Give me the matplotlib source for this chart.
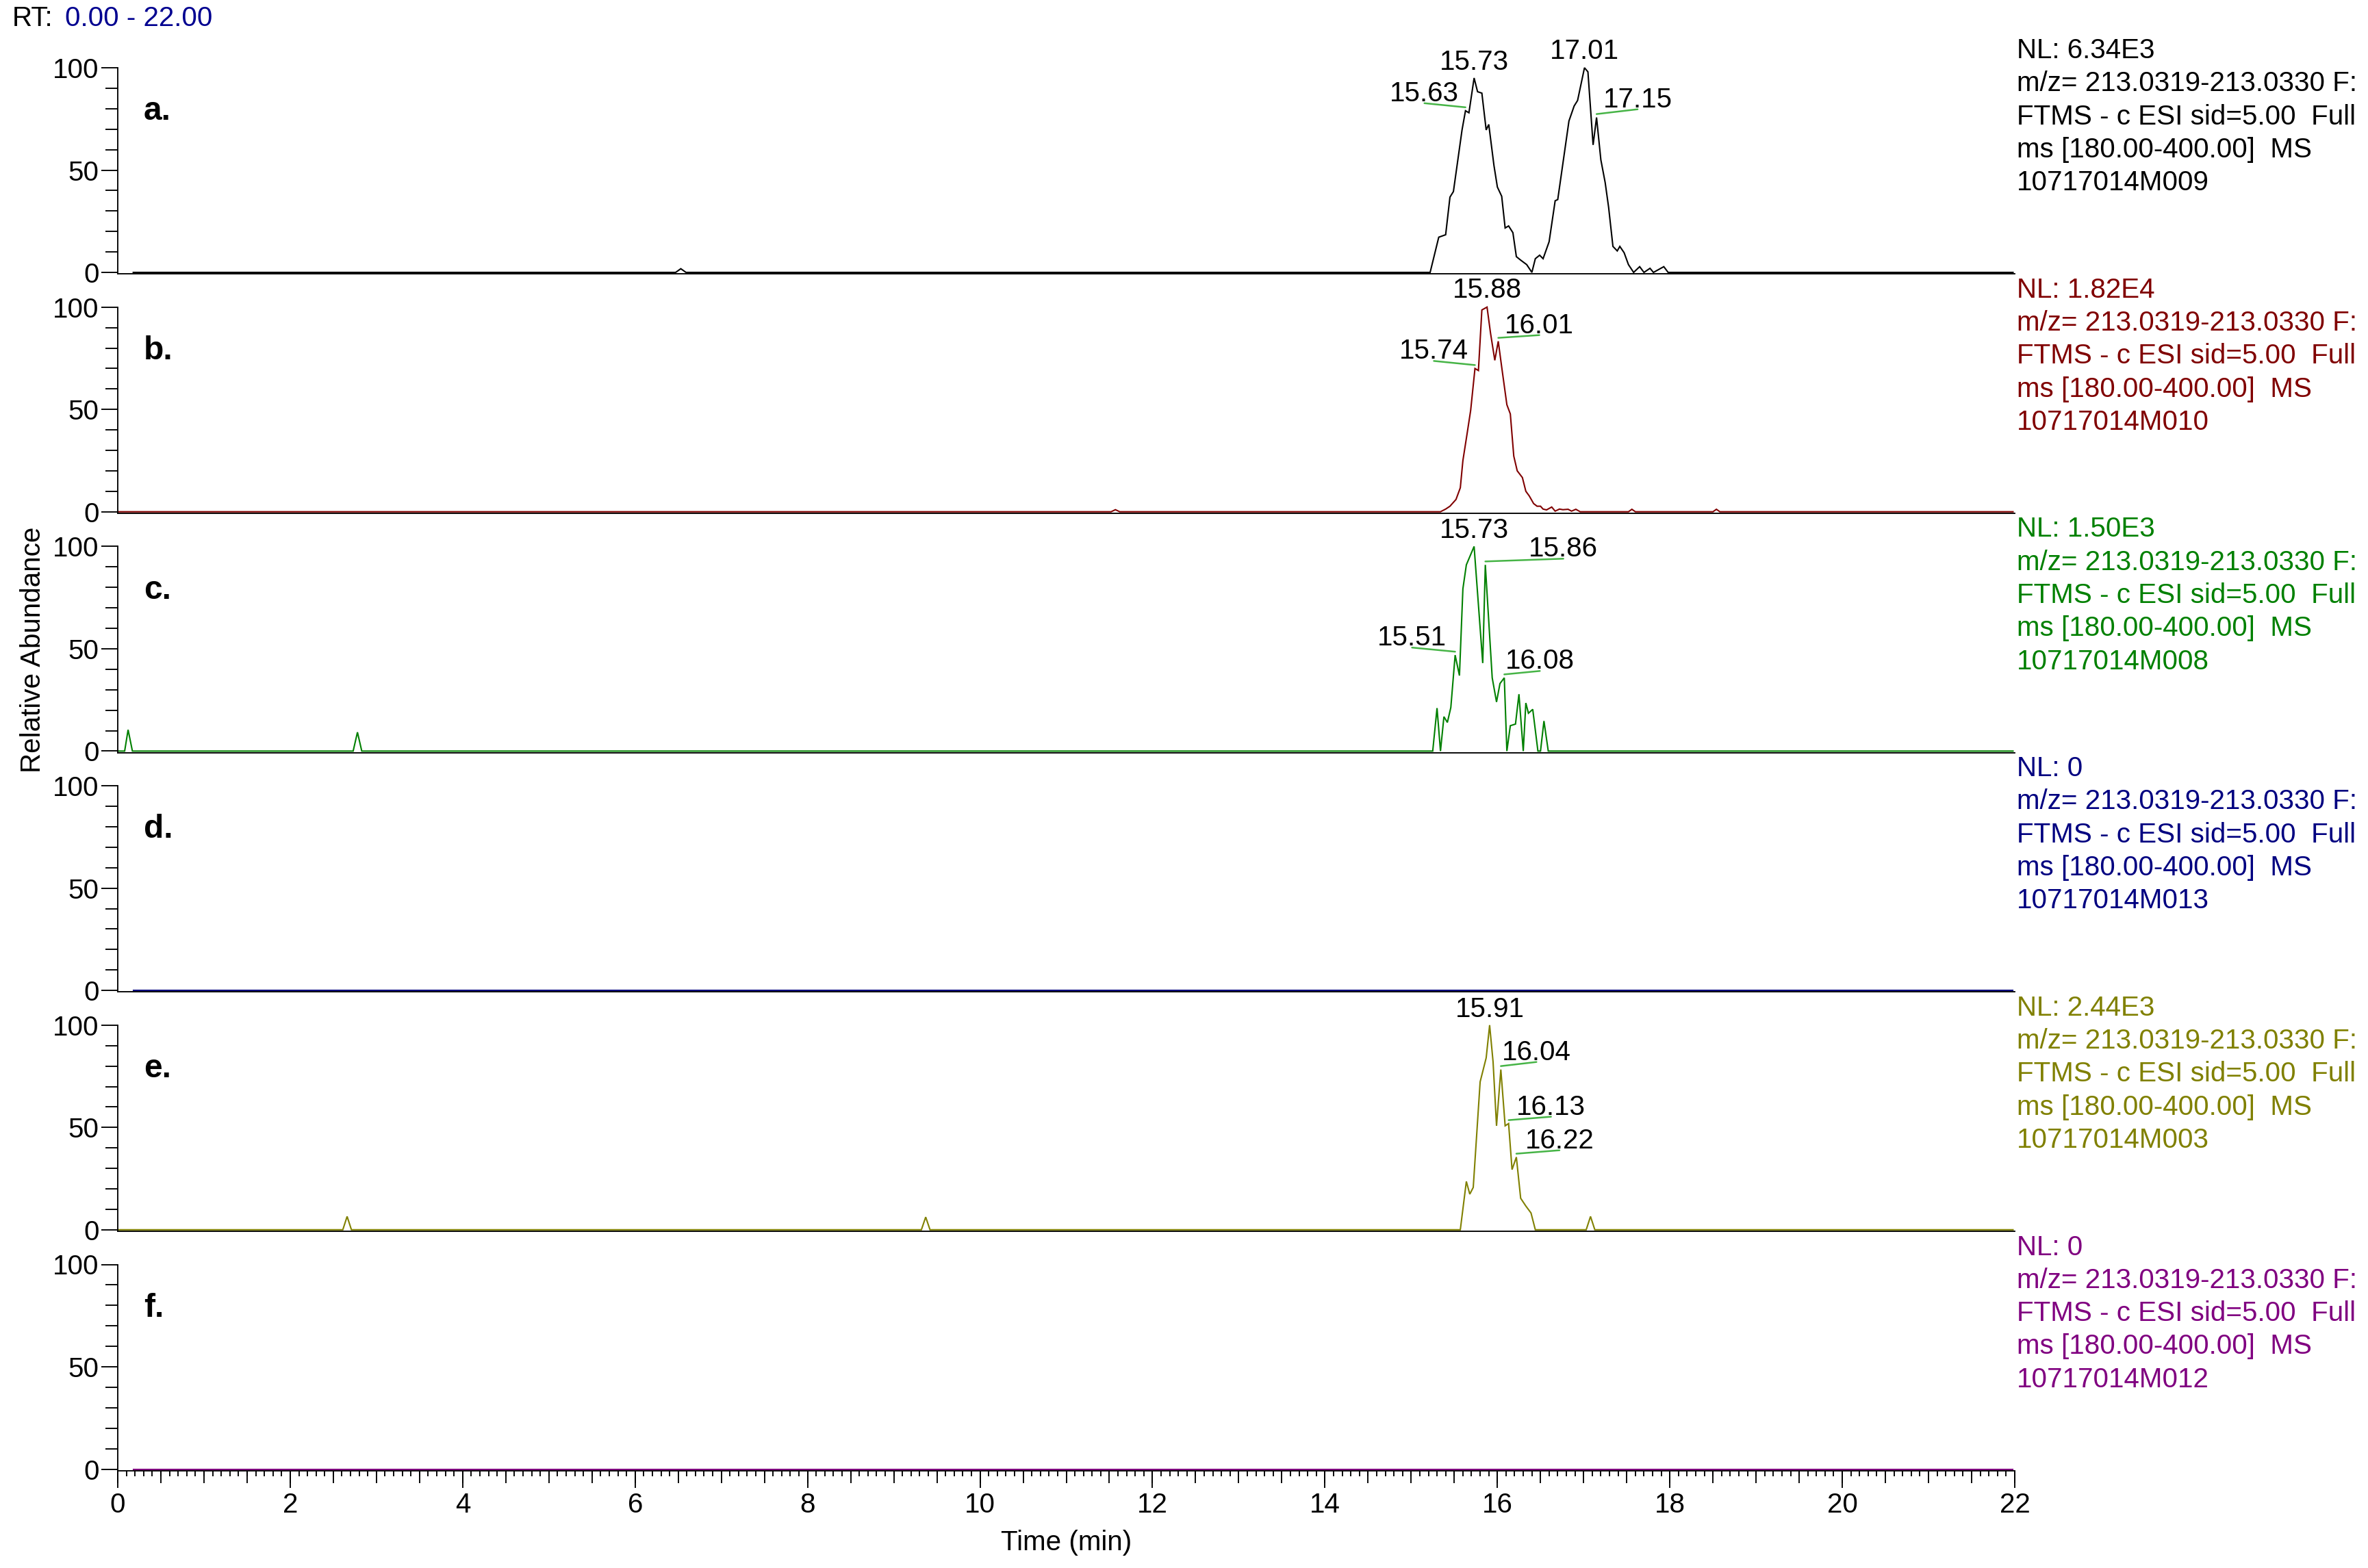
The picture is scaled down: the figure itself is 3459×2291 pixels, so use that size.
import numpy as np
import matplotlib
matplotlib.use("Agg")
import matplotlib.pyplot as plt
from matplotlib.ticker import FixedLocator, NullFormatter
from matplotlib.transforms import offset_copy

plt.rcParams['font.family'] = ['Liberation Sans', 'DejaVu Sans']

# ---------------- data ----------------
a_time = [0.18, 6.47, 6.53, 6.59, 15.22, 15.32, 15.40, 15.45, 15.49, 15.59, 15.63, 15.67,
          15.73, 15.77, 15.82, 15.87, 15.90, 15.96, 16.00, 16.05, 16.09, 16.13, 16.18,
          16.22, 16.27, 16.34, 16.40, 16.44, 16.49, 16.53, 16.60, 16.67, 16.70, 16.83,
          16.89, 16.93, 17.01, 17.05, 17.11, 17.15, 17.20, 17.25, 17.29, 17.34, 17.39,
          17.42, 17.47, 17.52, 17.58, 17.65, 17.70, 17.77, 17.81, 17.93, 17.98, 21.98]
a_abund = [0, 0, 1.8, 0, 0, 17.2, 18.4, 36.8, 39.5, 69.6, 79, 78,
           95, 88.3, 87.6, 69.6, 72.3, 52.3, 41.7, 37.2, 21.7, 22.7, 19.4,
           7.7, 6, 3.8, 0, 6.7, 8.4, 6.7, 15, 35, 35.6, 74,
           81.3, 84, 100, 98, 62.3, 75.7, 55, 43.9, 31.8, 12.7, 10.5,
           12.7, 9.6, 3.8, 0, 2.8, 0, 2, 0, 2.8, 0, 0]

b_time = [0.0, 11.52, 11.57, 11.62, 15.34, 15.40, 15.45, 15.52, 15.57, 15.60, 15.65, 15.69,
          15.74, 15.78, 15.82, 15.88, 15.92, 15.97, 16.01, 16.05, 16.11, 16.15, 16.19,
          16.23, 16.29, 16.33, 16.37, 16.42, 16.46, 16.50, 16.53, 16.57, 16.63, 16.67,
          16.72, 16.76, 16.82, 16.86, 16.91, 16.96, 17.52, 17.56, 17.60, 18.50, 18.54,
          18.58, 21.98]
b_abund = [0, 0, 1.0, 0, 0, 1.3, 2.7, 6, 11.7, 25, 38.5, 49.5,
           70, 69, 98.6, 100, 87.4, 74, 83.3, 70.7, 52.3, 47.8, 27.2,
           20, 16.7, 10, 7.7, 4, 2.7, 2.7, 1.3, 0.9, 2.3, 0.3,
           1.3, 1, 1.2, 0.3, 1.2, 0, 0, 1.2, 0, 0, 1.2,
           0, 0]

c_time = [0.0, 0.08, 0.12, 0.17, 2.73, 2.78, 2.83, 15.25, 15.30, 15.34, 15.38, 15.42, 15.46,
          15.51, 15.56, 15.60, 15.64, 15.73, 15.83, 15.86, 15.94, 15.99, 16.03, 16.08,
          16.11, 16.15, 16.21, 16.25, 16.30, 16.33, 16.36, 16.41, 16.47, 16.50, 16.54,
          16.59, 21.98]
c_abund = [0, 0, 10.4, 0, 0, 9.2, 0, 0, 21, 0, 16.8, 14, 21.3,
           46.9, 36.9, 79.3, 91, 100, 43, 91, 35.8, 24, 33, 35.8,
           0, 12.4, 13.2, 27.8, 0, 23.5, 18.5, 20.4, 0, 0, 14.7,
           0, 0]

d_time = [0.18, 21.98]
d_abund = [0, 0]

e_time = [0.0, 2.61, 2.66, 2.71, 9.32, 9.37, 9.42, 15.57, 15.64, 15.68, 15.72, 15.80, 15.87,
          15.91, 15.95, 15.99, 16.04, 16.09, 16.13, 16.17, 16.22, 16.27, 16.33, 16.39,
          16.44, 17.03, 17.08, 17.13, 21.98]
e_abund = [0, 0, 6.5, 0, 0, 6.2, 0, 0, 23.6, 17.4, 20.7, 72.3, 84,
           100, 82, 50.8, 78.3, 50.8, 51.9, 29.4, 35.5, 15.4, 11.6, 8.2,
           0, 0, 6.5, 0, 0]

f_time = [0.18, 21.98]
f_abund = [0, 0]

panel_letters = ['a.', 'b.', 'c.', 'd.', 'e.', 'f.']
nl_values = ['6.34E3', '1.82E4', '1.50E3', '0', '2.44E3', '0']
file_ids = ['10717014M009', '10717014M010', '10717014M008',
            '10717014M013', '10717014M003', '10717014M012']
filter_lines = ['m/z= 213.0319-213.0330 F:', 'FTMS - c ESI sid=5.00  Full',
                'ms [180.00-400.00]  MS']

a_peaks = [15.73, 17.01, 15.63, 17.15]
b_peaks = [15.88, 15.74, 16.01]
c_peaks = [15.73, 15.86, 15.51, 16.08]
d_peaks = []
e_peaks = [15.91, 16.04, 16.13, 16.22]
f_peaks = []

x_major = [0, 2, 4, 6, 8, 10, 12, 14, 16, 18, 20, 22]
y_major = [0, 50, 100]

# ---------------- styling / layout ----------------
colors = ['#000000', '#800000', '#008000', '#000080', '#808000', '#800080']
GREEN = '#46B446'
NAVY = '#000090'

# label offsets (pixels at full resolution): (dx, dy); dx == 0 -> label on top, no leader
label_offsets = [
    [(0, 12), (0, 13), (-60, 14), (60, 15)],
    [(0, 14), (-60, 14), (60, 12)],
    [(0, 12), (114, 12), (-63, 14), (52, 13)],
    [],
    [(0, 12), (52, 14), (62, 13), (63, 13)],
    [],
]

W, H, DPI = 3459, 2291, 300
PX = 72.0 / DPI  # points per pixel
FS = 9.7

fig = plt.figure(figsize=(W / DPI, H / DPI), dpi=DPI)
fig.patch.set_facecolor('white')

X0, X1 = 172, 2943
Y0_FIRST = 398.0
STEP = 349.7
SPAN = 299.0
YMIN = -0.8

times = [a_time, b_time, c_time, d_time, e_time, f_time]
abunds = [a_abund, b_abund, c_abund, d_abund, e_abund, f_abund]
peaks = [a_peaks, b_peaks, c_peaks, d_peaks, e_peaks, f_peaks]

for i in range(6):
    y0 = Y0_FIRST + i * STEP
    ytop = y0 - SPAN
    ybot = y0 - YMIN * SPAN / 100.0
    ax = fig.add_axes([X0 / W, 1 - ybot / H, (X1 - X0) / W, (ybot - ytop) / H])
    ax.patch.set_visible(False)
    ax.set_xlim(0, 22)
    ax.set_ylim(YMIN, 100)
    for s in ['top', 'right']:
        ax.spines[s].set_visible(False)
    for s in ['left', 'bottom']:
        ax.spines[s].set_linewidth(0.45)
        ax.spines[s].set_color('black')

    t = np.array(times[i], dtype=float)
    v = np.array(abunds[i], dtype=float)
    ax.plot(t, v, color=colors[i], lw=0.5, solid_joinstyle='miter', clip_on=False)

    # y ticks
    ax.yaxis.set_major_locator(FixedLocator(y_major))
    ax.yaxis.set_minor_locator(FixedLocator(list(range(0, 101, 10))))
    ax.tick_params(axis='y', which='major', length=5.8, width=0.45, pad=0.8,
                   labelsize=FS, direction='out')
    ax.tick_params(axis='y', which='minor', length=4.3, width=0.45, direction='out')

    # x ticks
    if i < 5:
        ax.tick_params(axis='x', which='both', bottom=False, labelbottom=False)
    else:
        ax.xaxis.set_major_locator(FixedLocator(x_major))
        ax.xaxis.set_minor_locator(FixedLocator(list(np.arange(0, 221) / 10.0)))
        ax.xaxis.set_minor_formatter(NullFormatter())
        ax.tick_params(axis='x', which='major', length=6.0, width=0.45, pad=1.5,
                       labelsize=FS)
        ax.tick_params(axis='x', which='minor', length=1.9, width=0.45)
        sec = ax.secondary_xaxis('bottom')
        sec.set_xticks(list(np.arange(0, 45) * 0.5))
        sec.tick_params(axis='x', which='major', length=4.3, width=0.45,
                        labelbottom=False)
        sec.xaxis.set_minor_locator(FixedLocator([]))
        sec.spines['bottom'].set_visible(False)

    # panel letter
    ax.text(0.30, 74.5, panel_letters[i], fontsize=11.5, fontweight='bold',
            ha='left', va='baseline')

    # peak labels
    for pk, (dx, dy) in zip(peaks[i], label_offsets[i]):
        pv = float(np.interp(pk, t, v))
        ax.annotate(f'{pk:.2f}', xy=(pk, pv), xytext=(dx * PX, dy * PX),
                    textcoords='offset points', ha='center', va='baseline',
                    fontsize=FS, annotation_clip=False)
        if dx != 0:
            tr = offset_copy(ax.transData, fig=fig, x=0, y=5 * PX, units='points')
            ax.annotate('', xy=(pk, pv), xycoords=tr,
                        xytext=(dx * PX, (dy - 3 - 5) * PX), textcoords='offset points',
                        arrowprops=dict(arrowstyle='-', color=GREEN, lw=0.6,
                                        shrinkA=0, shrinkB=0),
                        annotation_clip=False)

    # right-hand info text
    lines = [f'NL: {nl_values[i]}'] + filter_lines + [file_ids[i]]
    base = ytop - 14
    for k, ln in enumerate(lines):
        yy = base + k * 48.3
        fig.text(2946 / W, 1 - yy / H, ln, color=colors[i], fontsize=FS,
                 ha='left', va='baseline')

# header
fig.text(18 / W, 1 - 38 / H, 'RT:', fontsize=FS, ha='left', va='baseline')
fig.text(95 / W, 1 - 38 / H, '0.00 - 22.00', fontsize=FS, color=NAVY,
         ha='left', va='baseline')

# axis titles
fig.text(48 / W, 1 - 949 / H, 'Relative Abundance', fontsize=FS, rotation=90,
         ha='center', va='center')
fig.text((X0 + X1) / 2 / W, 1 - 2265 / H, 'Time (min)', fontsize=FS,
         ha='center', va='baseline')

fig.savefig('out.png', dpi=DPI, facecolor='white')
